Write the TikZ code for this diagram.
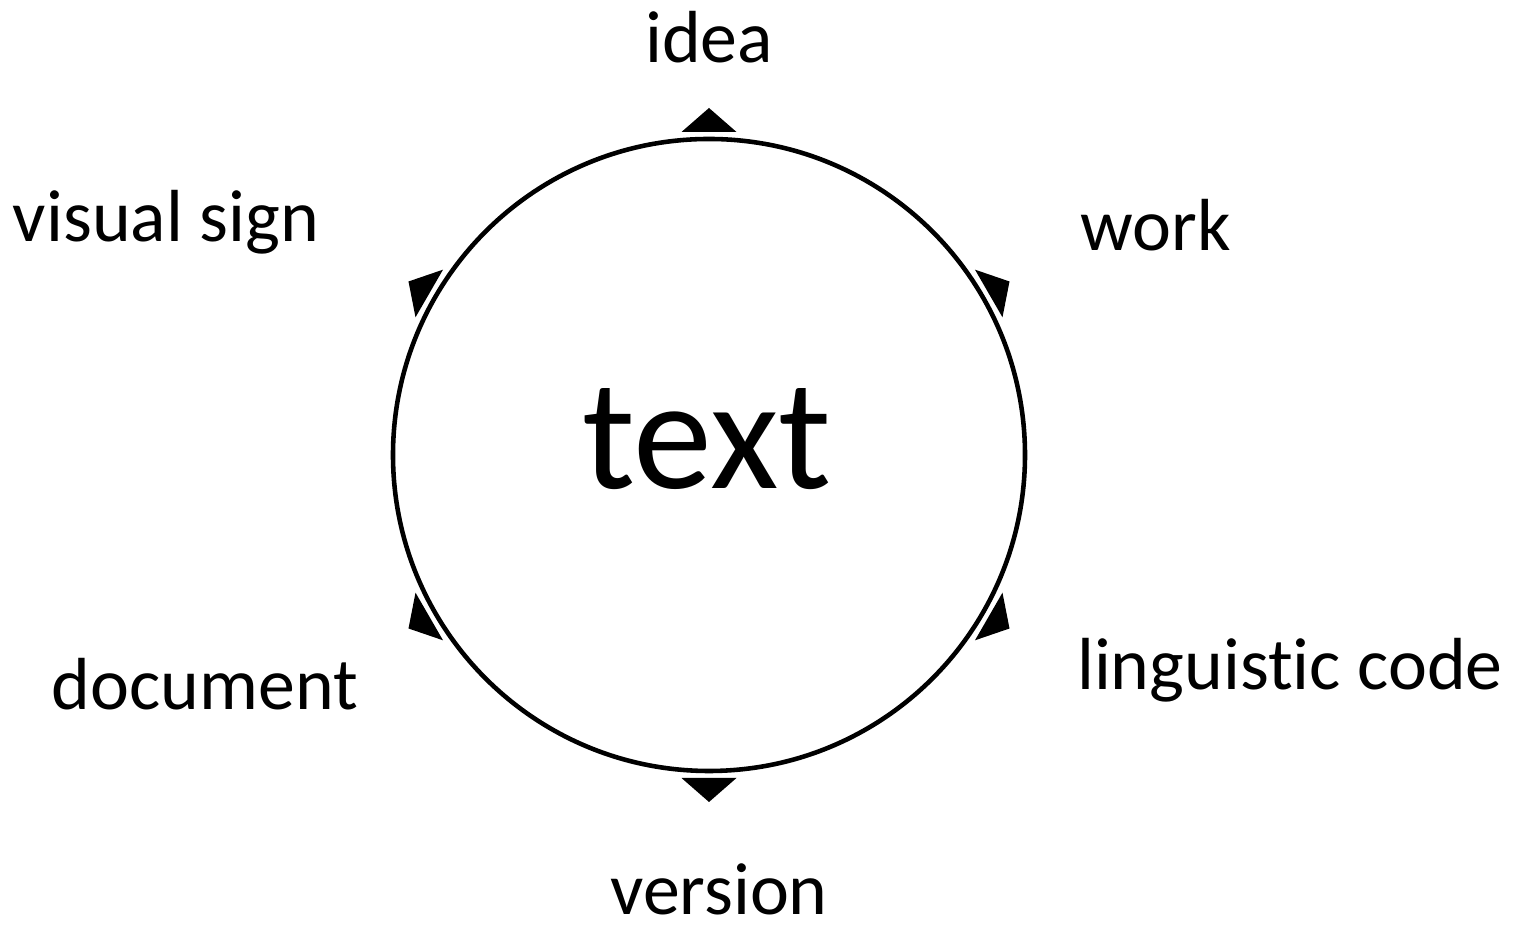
\documentclass[tikz,border=0pt]{standalone}
\usepackage{fontspec}
\setmainfont{Carlito}[Ligatures=NoCommon]
\usepackage{tikz}

\begin{document}
\begin{tikzpicture}[main node/.style={draw, circle, line width=1.3pt, minimum size=6.32cm, inner sep=0pt},
                    label node/.style={anchor=base, inner sep=0pt, font=\fontsize{21}{25}\selectfont}]
\useasboundingbox (-7.09,-4.70) rectangle (8.16,4.55);
\node[main node] (1) at (0,0) {};
\node[anchor=base, inner sep=0pt, font=\fontsize{45}{54}\selectfont] (t) at (-0.02,-0.34) {text};
\node[label node] (idea) at (0.00,3.92) {idea};
\node[label node] (work) at (4.47,2.04) {work};
\node[label node] (code) at (5.81,-2.35) {linguistic code};
\node[label node] (version) at (0.10,-4.60) {version};
\node[label node] (document) at (-5.04,-2.55) {document};
\node[label node] (sign) at (-5.43,2.13) {visual sign};
\foreach \a in {90,30,-30,-90,-150,150}
  \fill[rotate=\a] (3.47,0) -- (3.23,0.275) -- (3.23,-0.275) -- cycle;
\end{tikzpicture}
\end{document}
